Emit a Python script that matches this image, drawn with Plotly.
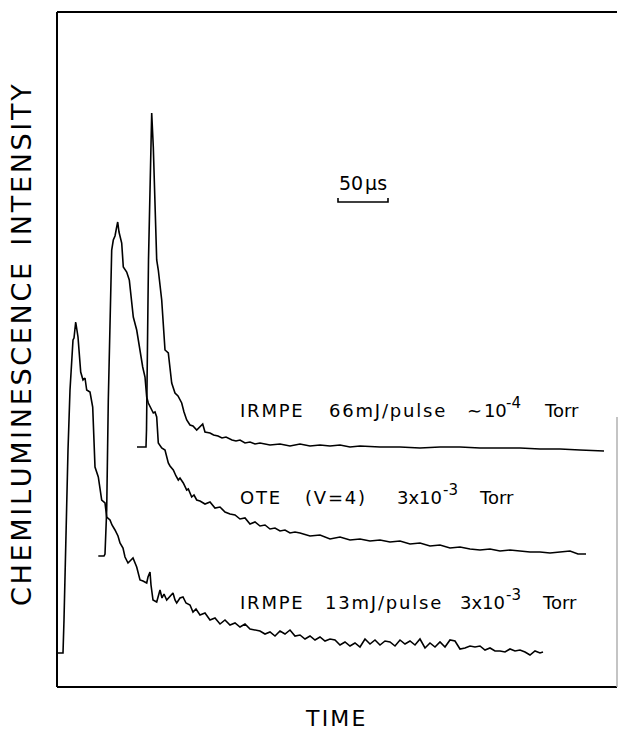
import plotly.graph_objects as go

# ---------------- data (time in microseconds, intensity in arbitrary units) -------------
# IRMPE 66 mJ/pulse ~1e-4 Torr
t_irmpe66 = [80, 89, 89.5, 90, 91, 91.5, 92.5, 93.5, 94.7, 96.3, 98, 99.7, 101.3, 104.7, 108,
             111.3, 114.7, 118, 121, 124.7, 127, 129.7, 133, 136, 139.7, 142, 145.7, 148, 153,
             156.6, 161, 165, 169, 175, 179, 183, 188, 193, 198, 203, 213, 223, 233, 243, 253,
             263, 273, 283, 293, 303, 323, 343, 363, 383, 403, 423, 443, 463, 483, 503, 523, 547]
i_irmpe66 = [240, 240, 257, 287, 387, 427, 487, 537, 574, 540, 487, 427, 417, 387, 337, 334,
             304, 294, 291, 284, 275, 267, 262, 261, 257, 259, 263, 255, 254, 252, 251, 249, 250,
             247, 246, 247, 244, 245, 243, 244, 242, 243, 241, 243, 241, 242, 241, 242, 240, 241,
             240, 240, 239, 240, 240, 239, 239, 239, 238, 238, 237, 236]

# OTE (v=4) 3e-3 Torr
t_ote = [41.3, 47, 48, 49, 49.7, 51.3, 53, 54.7, 56.3, 58, 59.5, 60.7, 62, 63, 64.7, 66.3, 69.7,
         72.3, 74.5, 76.3, 79.7, 83, 85.7, 88, 89.7, 91.3, 93, 96.3, 98, 99.7, 101.3, 103, 104.7,
         108, 111.3, 113, 116.3, 119, 121.3, 123, 126.3, 129.7, 131.3, 134.7, 137, 139.7, 143,
         148, 153, 158, 163, 168, 173, 178, 183, 188, 193, 198, 203, 208, 213, 218, 223, 228,
         233, 238, 243, 253, 263, 273, 283, 293, 303, 313, 323, 333, 343, 353, 363, 373, 383,
         393, 403, 413, 423, 433, 443, 453, 463, 473, 483, 493, 503, 513, 521, 529]
i_ote = [131, 131, 133, 157, 177, 287, 370, 437, 447, 451, 459, 465, 455, 450, 444, 420, 415,
         407, 387, 370, 357, 334, 320, 310, 290, 284, 280, 274, 275, 270, 244, 241, 239, 237, 224,
         221, 217, 211, 207, 209, 204, 197, 198, 190, 192, 187, 186, 183, 185, 179, 180, 175, 173,
         172, 168, 169, 163, 165, 161, 162, 158, 159, 156, 157, 154, 155, 154, 151, 152, 148, 150,
         147, 148, 146, 147, 145, 146, 143, 144, 141, 142, 139, 140, 138, 137, 138, 136, 137, 136,
         135, 135, 134, 135, 136, 133, 133]

# IRMPE 13 mJ/pulse 3e-3 Torr
t_irmpe13 = [0.5, 6, 7, 9, 11, 13, 15, 16, 17, 18.7, 21, 23.7, 26, 28, 29.7, 33, 35.7, 38, 41.3,
             44.7, 48, 49.7, 53, 55, 58, 61, 63, 66, 68, 71, 74, 76, 79.7, 83, 86, 89.7, 91, 93,
             94, 96, 99.7, 101, 103, 105, 107, 109.7, 113, 116, 118, 119.7, 123, 126, 129, 133,
             136, 139, 143, 148, 153, 158, 163, 168, 173, 178, 183, 188, 193, 198, 203, 208, 213,
             218, 223, 228, 233, 238, 243, 248, 253, 258, 263, 268, 273, 278, 283, 288, 293, 298,
             303, 308, 313, 318, 323, 328, 333, 338, 343, 348, 353, 358, 363, 368, 373, 378, 383,
             388, 393, 398, 403, 408, 413, 418, 423, 428, 433, 438, 443, 448, 453, 458, 463, 468,
             473, 478, 483, 486]
i_irmpe13 = [34, 34, 67, 167, 237, 297, 332, 347, 349, 365, 350, 315, 307, 309, 297, 295, 280,
             220, 210, 187, 184, 170, 167, 162, 157, 151, 144, 139, 130, 124, 127, 129, 120, 107,
             106, 104, 110, 115, 102, 87, 85, 91, 97, 89, 93, 87, 91, 94, 87, 84, 89, 90, 84, 82,
             75, 78, 72, 74, 67, 69, 63, 67, 62, 64, 60, 63, 58, 57, 56, 53, 55, 51, 56, 53, 57,
             51, 52, 48, 51, 47, 50, 46, 48, 47, 42, 45, 41, 44, 40, 48, 43, 47, 42, 46, 45, 41,
             47, 43, 46, 42, 48, 39, 44, 40, 45, 40, 47, 46, 38, 39, 41, 40, 41, 37, 39, 36, 36,
             35, 38, 36, 37, 35, 32, 36, 34, 35]

scale_bar_us = 50
scale_bar_start_us = 281

# ---------------- figure -------------------------------------------------------------
FONT = "DejaVu Sans"
HAIR = "\u200a"


def spaced(s):
    return HAIR.join(list(s))


fig = go.Figure()
line_style = dict(color="black", width=1.6)
for t, v, name in [(t_irmpe66, i_irmpe66, "IRMPE 66 mJ/pulse"),
                   (t_ote, i_ote, "OTE (v=4)"),
                   (t_irmpe13, i_irmpe13, "IRMPE 13 mJ/pulse")]:
    fig.add_trace(go.Scatter(x=t, y=v, mode="lines", line=line_style, name=name,
                             hoverinfo="skip"))

# 50 microsecond scale bar
sb_x = [scale_bar_start_us, scale_bar_start_us, scale_bar_start_us + scale_bar_us,
        scale_bar_start_us + scale_bar_us]
fig.add_trace(go.Scatter(x=sb_x, y=[489, 485, 485, 489], mode="lines",
                         line=dict(color="black", width=1.6), hoverinfo="skip"))

annotations = []


def label(x, y, text, size=18, anchor="left"):
    annotations.append(dict(x=x, y=y, xref="x", yref="y", text=text, showarrow=False,
                            xanchor=anchor, yanchor="middle",
                            font=dict(family=FONT, size=size, color="black")))


SUP = 15
# Line 1
label(181, 277, spaced("IRMPE"))
label(270, 277, spaced("66mJ/pulse"))
label(408, 277, "\u223c" + HAIR + "10")
label(447, 284, "-4", size=SUP)
label(485, 277, "Torr")
# Line 2
label(181, 190, spaced("OTE"))
label(246, 190, spaced("(V=4)"))
label(338, 190, "3x10")
label(384, 197, "-3", size=SUP)
label(420, 190, "Torr")
# Line 3
label(181, 85, spaced("IRMPE"))
label(266, 85, spaced("13mJ/pulse"))
label(401, 85, "3x10")
label(447, 92, "-3", size=SUP)
label(483, 85, "Torr")
# scale bar label
label(306, 504, "50" + HAIR + "\u03bcs", size=19, anchor="center")

# axis titles
annotations.append(dict(x=-0.0625, y=0.5067, xref="paper", yref="paper",
                        text=spaced("CHEMILUMINESCENCE") + "  " + spaced("INTENSITY"),
                        textangle=-90, showarrow=False, xanchor="center", yanchor="middle",
                        font=dict(family=FONT, size=27, color="black")))
annotations.append(dict(x=0.496, y=-0.046, xref="paper", yref="paper",
                        text=spaced("TIME"), showarrow=False, xanchor="center",
                        yanchor="middle", font=dict(family=FONT, size=22, color="black")))

axis_common = dict(showgrid=False, zeroline=False, showticklabels=False, ticks="",
                   showline=False, fixedrange=True)

# frame: left, top and bottom dark; right edge faint as in the print
shapes = [
    dict(type="line", xref="paper", yref="paper", x0=0, x1=0, y0=0, y1=1,
         line=dict(color="black", width=2)),
    dict(type="line", xref="paper", yref="paper", x0=0, x1=1, y0=1, y1=1,
         line=dict(color="black", width=2)),
    dict(type="line", xref="paper", yref="paper", x0=0, x1=1, y0=0, y1=0,
         line=dict(color="black", width=2)),
    dict(type="line", xref="paper", yref="paper", x0=1, x1=1, y0=0, y1=0.4,
         line=dict(color="#b0b0b0", width=1.5)),
]

fig.update_layout(
    width=618, height=730,
    margin=dict(l=57, r=1, t=12, b=43),
    paper_bgcolor="white", plot_bgcolor="white",
    showlegend=False,
    xaxis=dict(range=[0, 560], **axis_common),
    yaxis=dict(range=[0, 675], **axis_common),
    annotations=annotations,
    shapes=shapes,
)

fig.write_html("out.html", config={"displayModeBar": False})
